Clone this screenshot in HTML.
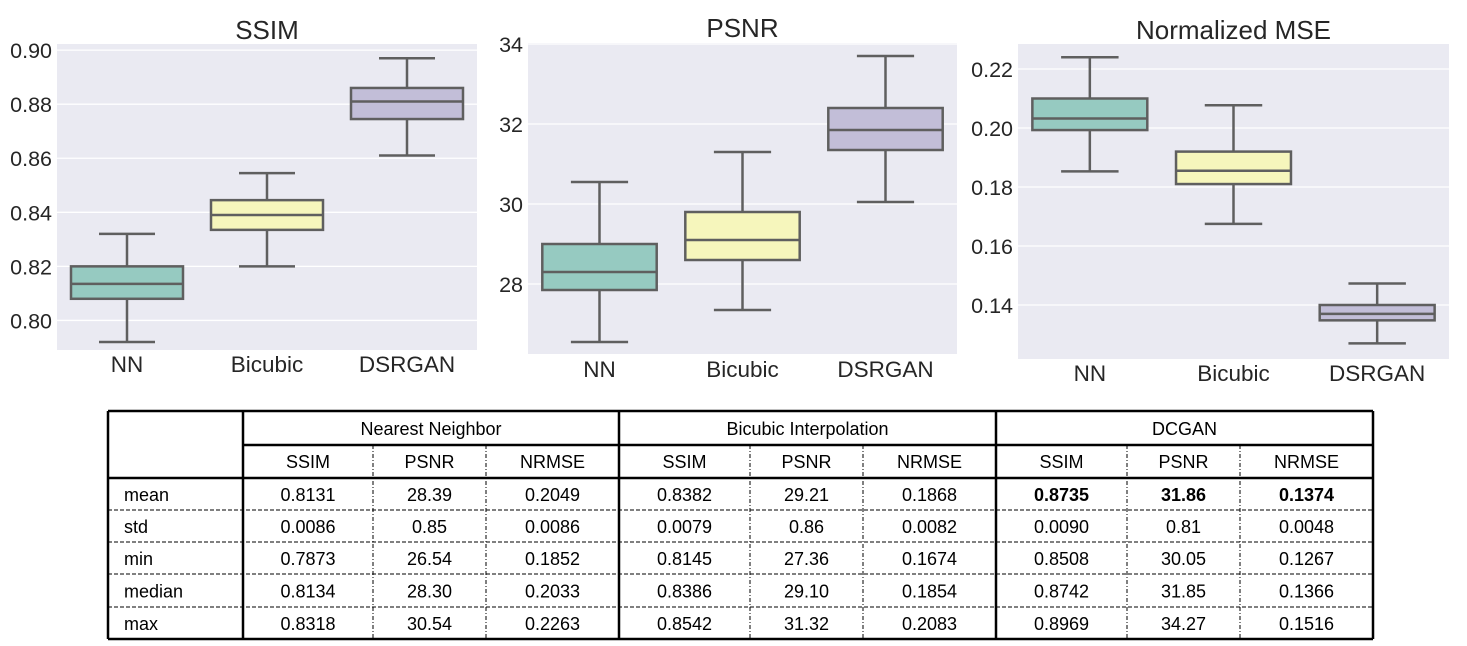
<!DOCTYPE html>
<html><head><meta charset="utf-8">
<style>
html,body{margin:0;padding:0;background:#fff;}
svg{display:block;font-family:"Liberation Sans",sans-serif;}
</style></head>
<body>
<svg id="svg" width="1467" height="646" viewBox="0 0 1467 646" xmlns="http://www.w3.org/2000/svg"></svg>
<script>
const categories = ["NN", "Bicubic", "DSRGAN"];
const boxColors = ["#96cac1", "#f6f6bc", "#c2bed8"];
// [whiskerLow, q1, median, q3, whiskerHigh]
const ssimBoxes = [[0.792, 0.808, 0.8135, 0.820, 0.832],[0.820, 0.8335, 0.839, 0.8445, 0.8545],[0.861, 0.8745, 0.881, 0.886, 0.897]];
const ssimTicks = [0.80, 0.82, 0.84, 0.86, 0.88, 0.90];
const psnrBoxes = [[26.55, 27.85, 28.3, 29.0, 30.55],[27.35, 28.6, 29.1, 29.8, 31.3],[30.05, 31.35, 31.85, 32.4, 33.7]];
const psnrTicks = [28, 30, 32, 34];
const nmseBoxes = [[0.1853, 0.1993, 0.2032, 0.210, 0.224],[0.1675, 0.181, 0.1855, 0.192, 0.2077],[0.127, 0.1348, 0.137, 0.140, 0.1473]];
const nmseTicks = [0.14, 0.16, 0.18, 0.20, 0.22];
const tableGroups = ["Nearest Neighbor", "Bicubic Interpolation", "DCGAN"];
const tableMetrics = ["SSIM", "PSNR", "NRMSE"];
const tableRows = ["mean", "std", "min", "median", "max"];
const tableValues = [
 ["0.8131","28.39","0.2049","0.8382","29.21","0.1868","0.8735","31.86","0.1374"],
 ["0.0086","0.85","0.0086","0.0079","0.86","0.0082","0.0090","0.81","0.0048"],
 ["0.7873","26.54","0.1852","0.8145","27.36","0.1674","0.8508","30.05","0.1267"],
 ["0.8134","28.30","0.2033","0.8386","29.10","0.1854","0.8742","31.85","0.1366"],
 ["0.8318","30.54","0.2263","0.8542","31.32","0.2083","0.8969","34.27","0.1516"]];

const NS = "http://www.w3.org/2000/svg";
const svg = document.getElementById("svg");
function mk(tag, attrs, parent, text){
  const e = document.createElementNS(NS, tag);
  for (const k in attrs) e.setAttribute(k, attrs[k]);
  if (text !== undefined) e.textContent = text;
  (parent || svg).appendChild(e);
  return e;
}
function chart(name, title, boxes, ticks, x0, x1, y0, y1, vTop, vBot, dec, labelY, titleY){
  const g = mk("g", {});
  
  
  const y = v => y0 + (vTop - v) / (vTop - vBot) * (y1 - y0);
  const step = (x1 - x0) / categories.length;
  const cx = i => x0 + step * (i + 0.5);
  const bg = mk("rect", {x:x0, y:y0, width:x1-x0, height:y1-y0, fill:"#eaeaf2"}, g);
  
  
  ticks.forEach(t => {
    const gl = mk("line", {x1:x0, x2:x1, y1:y(t), y2:y(t), stroke:"#fff", "stroke-width":1.3}, g);
    
    
    const tl = mk("text", {x:x0-5, y:y(t)+8, "text-anchor":"end", "font-size":21.5, fill:"#262626"}, g, t.toFixed(dec));
    
    
  });
  const tt = mk("text", {x:(x0+x1)/2, y:titleY, "text-anchor":"middle", "font-size":26, fill:"#262626"}, g, title);
  
  
  boxes.forEach((b, i) => {
    const c = cx(i), bw = step * 0.8, cw = bw * 0.5;
    const bx = mk("g", {stroke:"#5f5f5f", "stroke-width":2.5, fill:"none"}, g);
    
    
    mk("line", {x1:c, x2:c, y1:y(b[0]), y2:y(b[1])}, bx);
    mk("line", {x1:c, x2:c, y1:y(b[3]), y2:y(b[4])}, bx);
    mk("line", {x1:c-cw/2, x2:c+cw/2, y1:y(b[0]), y2:y(b[0])}, bx);
    mk("line", {x1:c-cw/2, x2:c+cw/2, y1:y(b[4]), y2:y(b[4])}, bx);
    mk("rect", {x:c-bw/2, y:y(b[3]), width:bw, height:y(b[1])-y(b[3]), fill:boxColors[i]}, bx);
    mk("line", {x1:c-bw/2, x2:c+bw/2, y1:y(b[2]), y2:y(b[2])}, bx);
    const xl = mk("text", {x:c, y:labelY, "text-anchor":"middle", "font-size":22.5, fill:"#262626"}, g, categories[i]);
    
    
  });
}
chart("ssim", "SSIM", ssimBoxes, ssimTicks, 57, 477, 44, 350, 0.90 + 6/2650, 0.90 - 300/2650 + 6/2650, 2, 372, 39);
chart("psnr", "PSNR", psnrBoxes, psnrTicks, 528, 957, 43, 354, 34.025, 26.25, 0, 377, 37);
chart("nmse", "Normalized MSE", nmseBoxes, nmseTicks, 1018, 1449, 44, 359, 0.22 + 25/2950, 0.22 - 290/2950, 2, 381, 39);

// table
const T = mk("g", {});


const L = 108, R = 1373, TOP = 411, BOT = 639;
const colX = [108, 243, 373, 486, 619, 750, 863, 996, 1127, 1240, 1373];
const rowY = [411, 445, 478, 510, 542, 574, 607, 639];
function ln(x1,y1,x2,y2,w,dash){
  const a = {x1:x1,y1:y1,x2:x2,y2:y2,stroke:"#000","stroke-width":w};
  if (dash) a["stroke-dasharray"] = dash;
  return mk("line", a, T);
}
ln(L,TOP,R,TOP,2.5); ln(L,BOT,R,BOT,2.5); ln(L,TOP,L,BOT,2.5); ln(R,TOP,R,BOT,2.5);
ln(243,TOP,243,BOT,2.5); ln(619,TOP,619,BOT,2.5); ln(996,TOP,996,BOT,2.5);
ln(243,445,R,445,2.5); ln(L,478,R,478,2.5);
[373,486,750,863,1127,1240].forEach(x => ln(x,445,x,BOT,1,"4,2,1,2"));
[510,542,574,607].forEach(y => ln(L,y,R,y,1,"4,2"));
const fs = 18;
tableGroups.forEach((gname, i) => {
  const t = mk("text", {x:(colX[1+3*i]+colX[4+3*i])/2, y:435, "text-anchor":"middle", "font-size":fs}, T, gname);
  
  
  tableMetrics.forEach((m, j) => {
    const c = 1 + 3*i + j;
    const h = mk("text", {x:(colX[c]+colX[c+1])/2, y:468, "text-anchor":"middle", "font-size":fs}, T, m);
    
    
  });
});
tableRows.forEach((r, ri) => {
  const yy = (rowY[ri+2] + rowY[ri+3]) / 2 + 7;
  const rl = mk("text", {x:124, y:yy, "font-size":fs}, T, r);
  
  
  tableValues[ri].forEach((v, ci) => {
    const a = {x:(colX[ci+1]+colX[ci+2])/2, y:yy, "text-anchor":"middle", "font-size":fs};
    if (ri === 0 && ci >= 6) a["font-weight"] = "bold";
    const c = mk("text", a, T, v);
    
    
  });
});
</script>
</body></html>
